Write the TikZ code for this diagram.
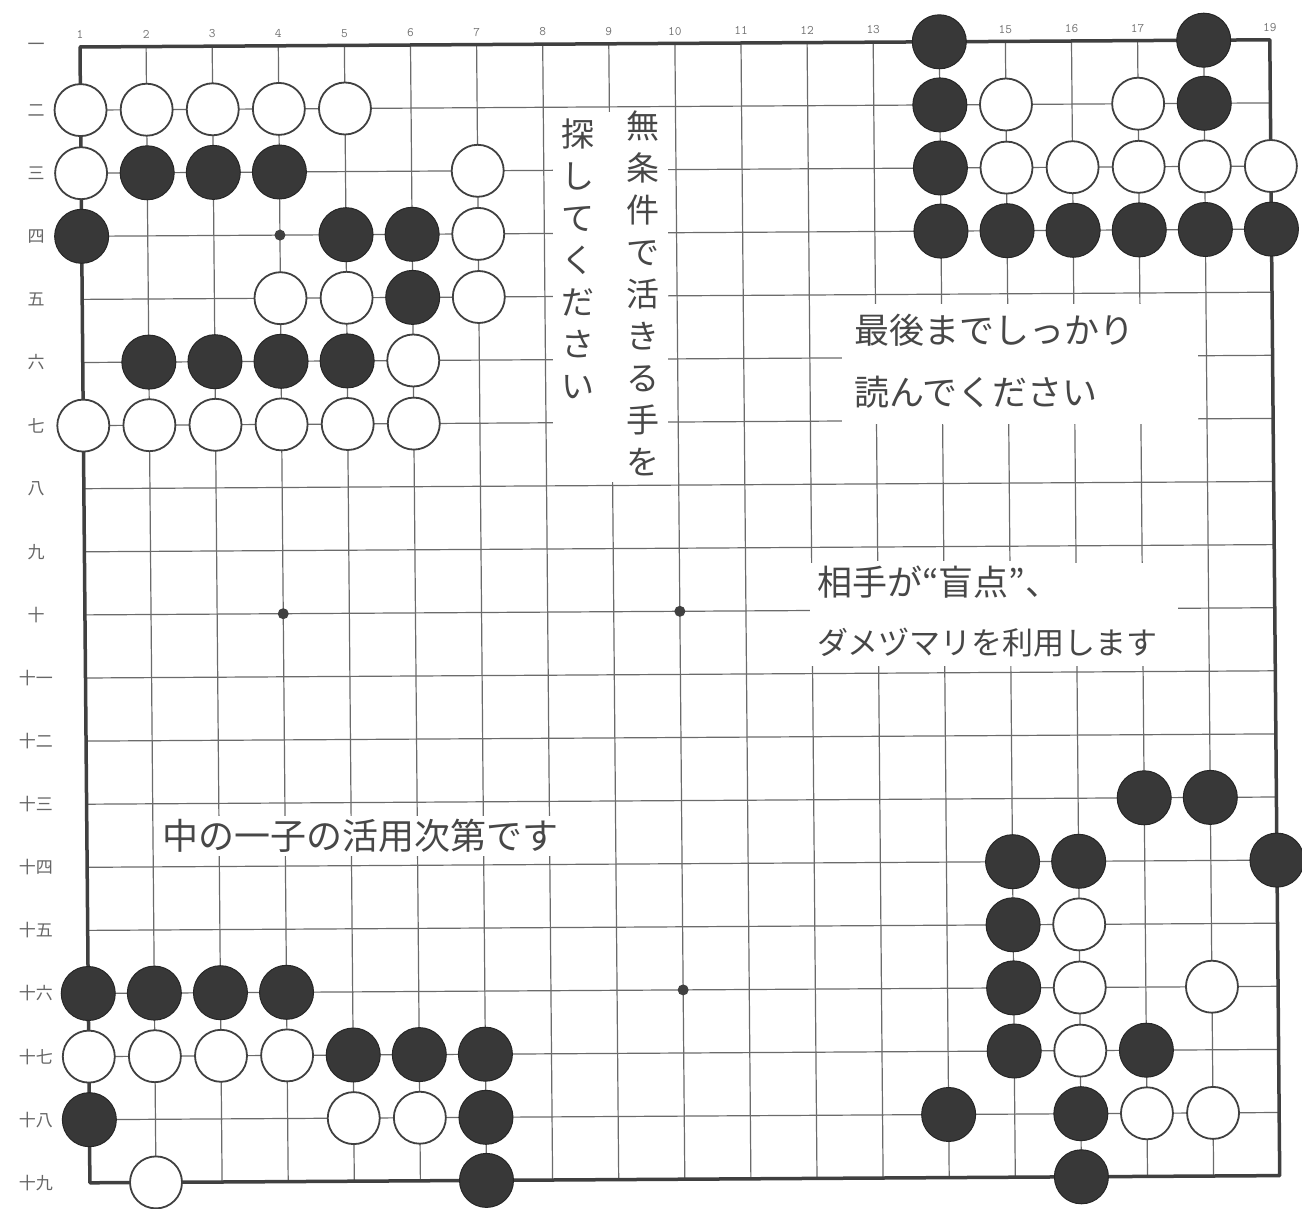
\documentclass[tikz,border=0pt]{standalone}
\usepackage{fontspec}
\setmainfont{Liberation Serif}
\newfontfamily\jp{Noto Sans CJK JP}
\begin{document}
\begin{tikzpicture}[x=1pt,y=-1pt,
  gridline/.style={draw=black!58, line width=1.2pt},
  frameline/.style={draw=black!75, line width=3.5pt, line cap=round, line join=round},
  bstone/.style={circle, fill=black!78, draw=black!85, line width=1pt, minimum size=54pt, inner sep=0pt},
  wstone/.style={circle, fill=white, draw=black!75, line width=1.8pt, minimum size=52pt, inner sep=0pt},
  starpt/.style={circle, fill=black!75, minimum size=11pt, inner sep=0pt},
  collab/.style={font=\ttfamily\fontsize{13}{13}\selectfont, text=black!55, inner sep=1pt},
  rowlab/.style={font=\jp\fontsize{17}{17}\selectfont, text=black!60, inner sep=1pt},
  msg/.style={font=\jp\fontsize{35}{35}\selectfont, text=black!72, fill=white, inner xsep=2pt, inner ysep=5pt, anchor=west},
  vmsg/.style={font=\jp\fontsize{33}{42}\selectfont, text=black!72, align=center, inner sep=0pt, anchor=north},
]
\fill[white] (0,0) rectangle (1302,1209);
\useasboundingbox (0,0) rectangle (1302,1209);
% intersections
\foreach \c in {1,...,19}{
  \foreach \r in {1,...,19}{
    \coordinate (p-\c-\r) at ({80+(\c-1)*66.1+(\r-1)*0.55},{47+(\r-1)*63.1-(\c-1)*0.4});
  }
}
\coordinate (lx) at (36,0);
% grid
\foreach \c in {2,...,18} \draw[gridline] (p-\c-1) -- (p-\c-19);
\foreach \r in {2,...,18} \draw[gridline] (p-1-\r) -- (p-19-\r);
\draw[frameline] (p-1-1) -- (p-19-1) -- (p-19-19) -- (p-1-19) -- cycle;
% star points
\foreach \c/\r in {4/4,4/10,10/10,10/16} \node[starpt] (h-\c-\r) at (p-\c-\r) {};
% text areas
\fill[white] (553,112) rectangle (668,482);
\fill[white] (842,304) rectangle (1198,424);
\fill[white] (810,563) rectangle (1178,666);
\node[vmsg] (v1) at (643,111) {無\\条\\件\\で\\活\\き\\る\\手\\を};
\node[vmsg] (v2) at (578,119) {探\\し\\て\\く\\だ\\さ\\い};
\node[msg] (m1) at (852,330) {最後までしっかり};
\node[msg] (m2) at (852,392) {読んでください};
\node[msg] (m3) at (815,582) {相手が“盲点”、};
\node[msg, font=\jp\fontsize{31}{31}\selectfont] (m4) at (815,643) {ダメヅマリを利用します};
\node[msg, inner ysep=3pt, font=\jp\fontsize{36}{36}\selectfont] (m5) at (160,836) {中の一子の活用次第です};
% column labels
\foreach \c in {1,...,19} \node[collab, above=7pt] (cl-\c) at (p-\c-1) {\c};
% row labels
\foreach \r/\k in {1/一,2/二,3/三,4/四,5/五,6/六,7/七,8/八,9/九,10/十,11/十一,12/十二,13/十三,14/十四,15/十五,16/十六,17/十七,18/十八,19/十九}
  \node[rowlab] (rl-\r) at (p-1-\r -| lx) {\k};
% black stones
\foreach \c/\r in {14/1,18/1,14/2,18/2,2/3,3/3,4/3,14/3,1/4,5/4,6/4,14/4,15/4,16/4,17/4,18/4,19/4,6/5,2/6,3/6,4/6,5/6,17/13,18/13,15/14,16/14,19/14,15/15,1/16,2/16,3/16,4/16,15/16,5/17,6/17,7/17,15/17,17/17,1/18,7/18,14/18,16/18,7/19,16/19}
  \node[bstone] (s-\c-\r) at (p-\c-\r) {};
% white stones
\foreach \c/\r in {1/2,2/2,3/2,4/2,5/2,15/2,17/2,1/3,7/3,15/3,16/3,17/3,18/3,19/3,7/4,4/5,5/5,7/5,6/6,1/7,2/7,3/7,4/7,5/7,6/7,16/15,16/16,18/16,1/17,2/17,3/17,4/17,16/17,5/18,6/18,17/18,18/18,2/19}
  \node[wstone] (s-\c-\r) at (p-\c-\r) {};
\end{tikzpicture}
\end{document}
